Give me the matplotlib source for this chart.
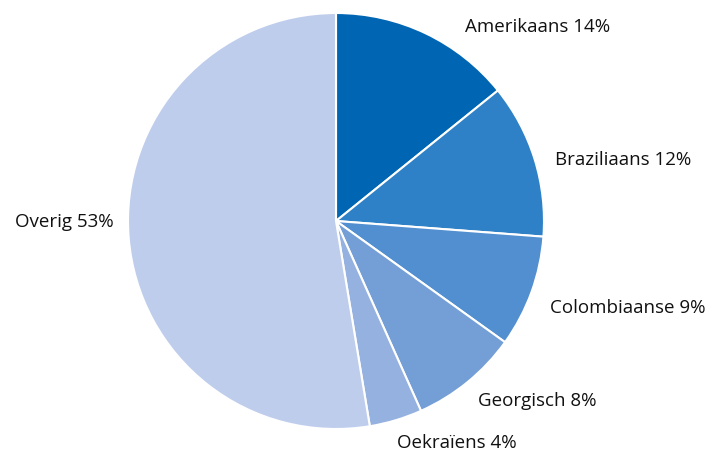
import matplotlib
matplotlib.use("Agg")
import matplotlib.pyplot as plt

categories = ["Amerikaans", "Braziliaans", "Colombiaanse", "Georgisch", "Oekraïens", "Overig"]
values = [14.2, 12.0, 8.7, 8.4, 4.1, 52.6]
percent_labels = [14, 12, 9, 8, 4, 53]
colors = ["#0066b3", "#2e81c6", "#518fd0", "#749ed6", "#95b1e0", "#bfcdec"]

# label anchor positions in pixels (x, y from top), and alignment
label_px = [(465, 27, "left"), (555, 160, "left"), (550, 308, "left"),
            (478, 401, "left"), (397, 443, "left"), (114, 222, "right")]

W, H = 710, 452
cx, cy, R = 336, 222, 208
fig = plt.figure(figsize=(W / 100, H / 100), dpi=100)
ax = fig.add_axes([(cx - R) / W, (H - cy - R) / H, 2 * R / W, 2 * R / H])
ax.pie(values, colors=colors, startangle=90, counterclock=False, radius=1,
       wedgeprops=dict(edgecolor="white", linewidth=1.5))
ax.set_xlim(-1, 1)
ax.set_ylim(-1, 1)
ax.set_aspect("equal")
ax.axis("off")

for cat, p, (px, py, ha) in zip(categories, percent_labels, label_px):
    ax.text((px - cx) / R, (cy - py) / R, f"{cat} {p}%", ha=ha, va="center",
            fontsize=13.5, family="Open Sans", color="#111111", clip_on=False)

fig.savefig("out.png", dpi=100)
